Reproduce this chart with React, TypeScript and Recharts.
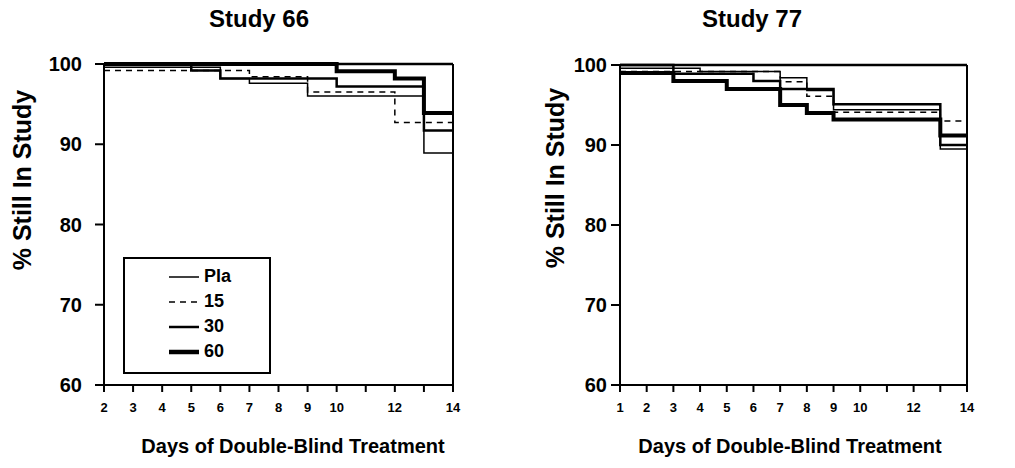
import React from 'react';
import { LineChart, Line, XAxis, YAxis, ReferenceLine } from 'recharts';

// Study 66
const days66 = [2, 3, 4, 5, 6, 7, 8, 9, 10, 11, 12, 13, 14];
const pla66 = [99.6, 99.6, 99.6, 99.6, 98.2, 97.6, 97.6, 96.0, 96.0, 96.0, 96.0, 88.9, 88.9];
const d15_66 = [99.2, 99.2, 99.2, 99.2, 99.2, 98.4, 98.4, 96.5, 96.5, 96.5, 92.7, 92.7, 92.7];
const d30_66 = [100, 100, 100, 99.2, 98.2, 98.2, 98.2, 98.2, 97.2, 97.2, 97.2, 91.7, 91.7];
const d60_66 = [100, 100, 100, 100, 100, 100, 100, 100, 99.1, 99.1, 98.2, 93.9, 93.9];

// Study 77
const days77 = [1, 2, 3, 4, 5, 6, 7, 8, 9, 10, 11, 12, 13, 14];
const pla77 = [99.6, 99.6, 99.6, 99.2, 99.2, 99.2, 98.4, 96.8, 94.4, 94.4, 94.4, 94.4, 89.5, 89.5];
const d15_77 = [99.2, 99.2, 99.2, 99.2, 99.2, 99.2, 97.9, 96.1, 94.1, 94.1, 94.1, 94.1, 93.0, 93.0];
const d30_77 = [100, 100, 98.9, 98.9, 98.9, 98.0, 97.0, 97.0, 95.1, 95.1, 95.1, 95.1, 90.0, 90.0];
const d60_77 = [99, 99, 98, 98, 97, 97, 95, 94, 93.2, 93.2, 93.2, 93.2, 91.2, 91.2];

const yTicks = [60, 70, 80, 90, 100];
const ticks66 = [2, 3, 4, 5, 6, 7, 8, 9, 10, 11, 12, 13, 14];
const ticks77 = [1, 2, 3, 4, 5, 6, 7, 8, 9, 10, 11, 12, 13, 14];
const hiddenLabels = [11, 13];

const legendItems = [
  { label: 'Pla', width: 1.5, dash: undefined },
  { label: '15', width: 1.5, dash: '6 5' },
  { label: '30', width: 2.5, dash: undefined },
  { label: '60', width: 4.5, dash: undefined },
];

const FONT = '"Liberation Sans", Arial, Helvetica, sans-serif';

const build = (days: number[], pla: number[], a: number[], b: number[], c: number[]) =>
  days.map((d, i) => ({ day: d, pla: pla[i], d15: a[i], d30: b[i], d60: c[i] }));

const data66 = build(days66, pla66, d15_66, d30_66, d60_66);
const data77 = build(days77, pla77, d15_77, d30_77, d60_77);

const LegendBox = () => (
  <div
    style={{
      position: 'absolute',
      left: 123,
      top: 257,
      width: 148,
      height: 117,
      border: '2px solid #000',
      boxSizing: 'border-box',
      background: '#fff',
      paddingTop: 5,
      fontFamily: FONT,
      fontWeight: 700,
      fontSize: 18,
    }}
  >
    {legendItems.map((it) => (
      <div key={it.label} style={{ display: 'flex', alignItems: 'center', height: 25, marginLeft: 42 }}>
        <svg width={34} height={10}>
          <line x1={2} y1={5} x2={32} y2={5} stroke="#000" strokeWidth={it.width} strokeDasharray={it.dash} />
        </svg>
        <span style={{ marginLeft: 3 }}>{it.label}</span>
      </div>
    ))}
  </div>
);

type PanelProps = {
  data: any[];
  ticks: number[];
  xMin: number;
  width: number;
  yAxisWidth: number;
  right: number;
  top: number;
  yTickMargin: number;
};

const Panel = ({ data, ticks, xMin, width, yAxisWidth, right, top, yTickMargin }: PanelProps) => (
  <LineChart width={width} height={468} data={data} margin={{ top, right, bottom: 53, left: 0 }}>
    <XAxis
      dataKey="day"
      type="number"
      domain={[xMin, 14]}
      ticks={ticks}
      interval={0}
      height={30}
      tickFormatter={(v: number) => (hiddenLabels.includes(v) ? '' : String(v))}
      tick={{ fill: '#000', fontSize: 13, fontWeight: 700, fontFamily: FONT }}
      tickSize={7}
      tickMargin={11}
      axisLine={{ stroke: '#000', strokeWidth: 2 }}
      tickLine={{ stroke: '#000', strokeWidth: 2 }}
    />
    <YAxis
      type="number"
      domain={[60, 100]}
      ticks={yTicks}
      width={yAxisWidth}
      tick={{ fill: '#000', fontSize: 20, fontWeight: 700, fontFamily: FONT }}
      tickSize={9}
      tickMargin={yTickMargin}
      axisLine={{ stroke: '#000', strokeWidth: 2 }}
      tickLine={{ stroke: '#000', strokeWidth: 2 }}
    />
    <ReferenceLine y={100} stroke="#000" strokeWidth={2.5} />
    <ReferenceLine x={14} stroke="#000" strokeWidth={2} />
    <Line type="stepAfter" dataKey="pla" stroke="#000" strokeWidth={1.5} dot={false} isAnimationActive={false} />
    <Line type="stepAfter" dataKey="d15" stroke="#000" strokeWidth={1.5} strokeDasharray="6 5" dot={false} isAnimationActive={false} />
    <Line type="stepAfter" dataKey="d30" stroke="#000" strokeWidth={2.5} dot={false} isAnimationActive={false} />
    <Line type="stepAfter" dataKey="d60" stroke="#000" strokeWidth={4} dot={false} isAnimationActive={false} />
  </LineChart>
);

const textStyle: React.CSSProperties = {
  position: 'absolute',
  fontFamily: FONT,
  fontWeight: 700,
  color: '#000',
  whiteSpace: 'nowrap',
};

export default function App() {
  return (
    <div style={{ position: 'absolute', left: 0, top: 0, width: 1015, height: 468, background: '#fff', overflow: 'hidden' }}>
      <div style={{ position: 'absolute', left: 0, top: 0 }}>
        <Panel data={data66} ticks={ticks66} xMin={2} width={500} yAxisWidth={104} right={47} top={64} yTickMargin={13} />
      </div>
      <div style={{ position: 'absolute', left: 507, top: 0 }}>
        <Panel data={data77} ticks={ticks77} xMin={1} width={508} yAxisWidth={113} right={48} top={65} yTickMargin={4} />
      </div>
      <LegendBox />

      <div style={{ ...textStyle, left: 259, top: 19, fontSize: 24, transform: 'translate(-50%, -50%)' }}>Study 66</div>
      <div style={{ ...textStyle, left: 752, top: 19, fontSize: 24, transform: 'translate(-50%, -50%)' }}>Study 77</div>

      <div style={{ ...textStyle, left: 22, top: 180, fontSize: 25, transform: 'translate(-50%, -50%) rotate(-90deg)' }}>% Still In Study</div>
      <div style={{ ...textStyle, left: 555, top: 178, fontSize: 25, transform: 'translate(-50%, -50%) rotate(-90deg)' }}>% Still In Study</div>

      <div style={{ ...textStyle, left: 293, top: 446, fontSize: 20, transform: 'translate(-50%, -50%)' }}>Days of Double-Blind Treatment</div>
      <div style={{ ...textStyle, left: 790, top: 446, fontSize: 20, transform: 'translate(-50%, -50%)' }}>Days of Double-Blind Treatment</div>
    </div>
  );
}
